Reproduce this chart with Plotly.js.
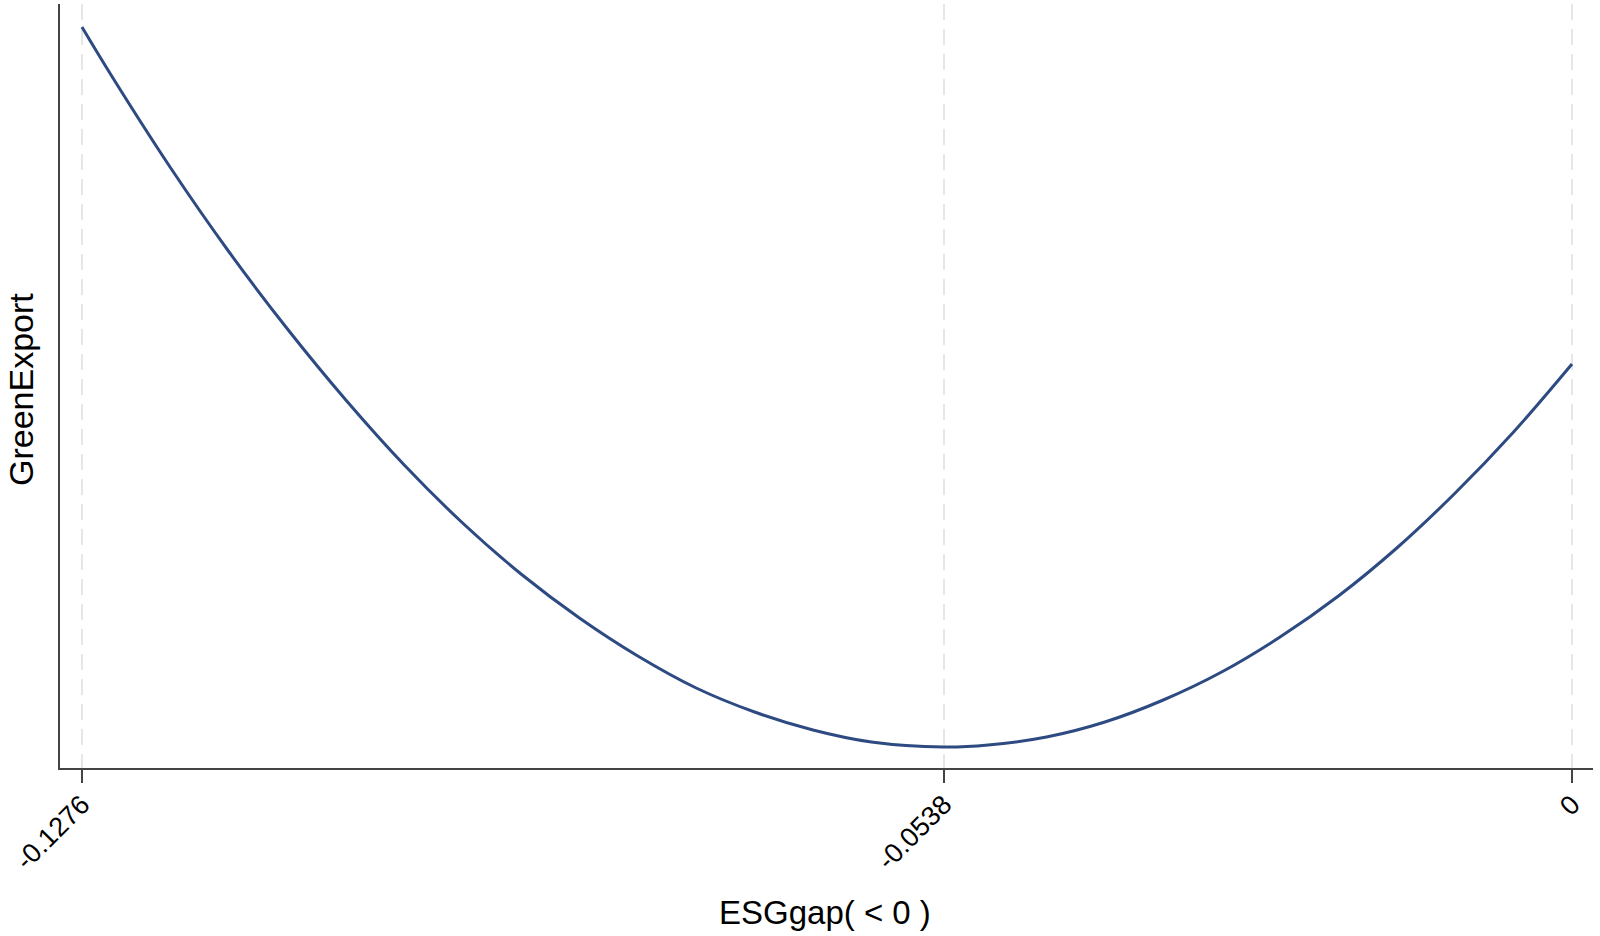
<!DOCTYPE html>
<html>
<head>
<meta charset="utf-8">
<script src="https://cdn.plot.ly/plotly-3.0.1.min.js"></script>
<style>
html,body{margin:0;padding:0;background:#fff;}
#chart{width:1600px;height:936px;}
</style>
</head>
<body>
<div id="chart"></div>
<script>
// ESGgap values (x) and fitted GreenExport (arbitrary units)
const esgGap = [-0.1276, -0.125, -0.12, -0.115, -0.11, -0.105, -0.10, -0.095, -0.09, -0.085, -0.08, -0.075, -0.07, -0.065, -0.06, -0.0538, -0.05, -0.045, -0.04, -0.035, -0.03, -0.025, -0.02, -0.015, -0.01, -0.005, 0];
const greenExport = [7.41, 6.91, 6.00, 5.16, 4.39, 3.68, 3.03, 2.45, 1.94, 1.50, 1.12, 0.80, 0.56, 0.38, 0.26, 0.21, 0.23, 0.31, 0.46, 0.68, 0.96, 1.31, 1.72, 2.20, 2.75, 3.36, 4.04];
const tickValues = [-0.1276, -0.0538, 0];
const tickLabels = ["-0.1276", "-0.0538", "0"];
const xTitle = "ESGgap( < 0 )";
const yTitle = "GreenExport";

const trace = {
  x: esgGap,
  y: greenExport,
  type: 'scatter',
  mode: 'lines',
  line: {color: '#2e4a82', width: 3, shape: 'spline', smoothing: 1},
  hoverinfo: 'skip'
};

const layout = {
  width: 1600,
  height: 936,
  paper_bgcolor: '#ffffff',
  plot_bgcolor: '#ffffff',
  margin: {l: 60, r: 7, t: 4, b: 168},
  showlegend: false,
  font: {family: 'Liberation Sans, Arial, sans-serif', color: '#000'},
  xaxis: {
    range: [-0.12948, 0.0018],
    tickmode: 'array',
    tickvals: tickValues,
    ticktext: tickLabels,
    tickangle: -45,
    ticks: 'outside',
    ticklen: 13,
    tickwidth: 2,
    tickcolor: '#444',
    tickfont: {size: 27, color: '#000'},
    ticklabelstandoff: -5,
    showline: true,
    linecolor: '#444',
    linewidth: 2,
    showgrid: true,
    gridcolor: '#e6e6e6',
    gridwidth: 2,
    griddash: '16px,9px',
    zeroline: false,
    automargin: false
  },
  yaxis: {
    range: [0, 7.64],
    showticklabels: false,
    ticks: '',
    showline: true,
    linecolor: '#444',
    linewidth: 2,
    showgrid: false,
    zeroline: false,
    automargin: false
  },
  annotations: [
    {text: xTitle, xref: 'paper', yref: 'paper', x: 0.499, y: -0.1885,
     xanchor: 'center', yanchor: 'middle', showarrow: false,
     font: {size: 33, color: '#000'}},
    {text: yTitle, xref: 'paper', yref: 'paper', x: -0.0254, y: 0.4948,
     xanchor: 'center', yanchor: 'middle', showarrow: false, textangle: -90,
     font: {size: 34, color: '#000'}}
  ]
};

Plotly.newPlot('chart', [trace], layout, {displayModeBar: false, staticPlot: true});
</script>
</body>
</html>
